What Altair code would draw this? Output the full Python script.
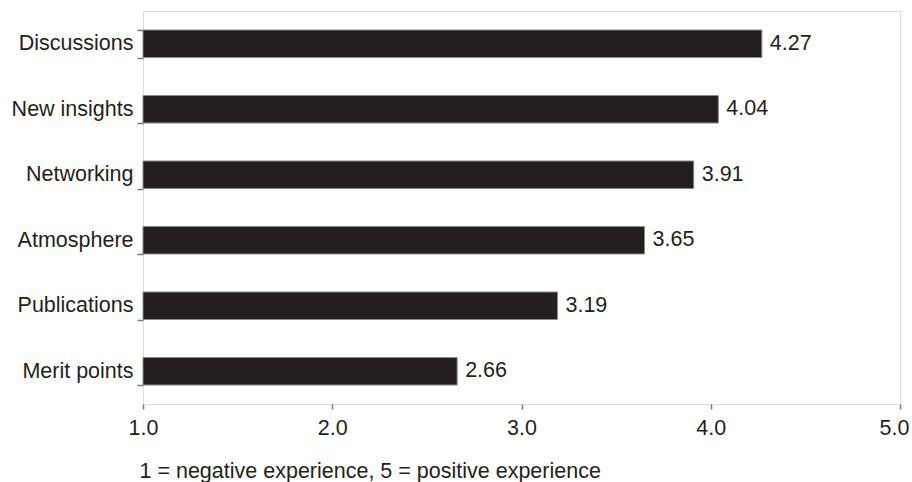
import altair as alt
import pandas as pd

# Mean ratings per aspect (1 = negative, 5 = positive)
aspects = ["Discussions", "New insights", "Networking", "Atmosphere", "Publications", "Merit points"]
scores = [4.27, 4.04, 3.91, 3.65, 3.19, 2.66]
x_ticks = [1.0, 2.0, 3.0, 4.0, 5.0]

df = pd.DataFrame({"aspect": aspects, "score": scores, "base": [1.0] * len(aspects)})

FONT = "Liberation Sans"
FS = 21.5
INK = "#231f20"
GRID = "#7a7a7a"

x_scale = alt.Scale(domain=[1, 5], nice=False, zero=False)
y_scale = alt.Scale(domain=aspects, paddingInner=0.58, paddingOuter=0.29)

base = alt.Chart(df).encode(
    y=alt.Y(
        "aspect:N",
        scale=y_scale,
        sort=aspects,
        axis=alt.Axis(
            title=None,
            tickBand="extent",
            tickSize=6,
            tickColor=GRID,
            tickWidth=1.5,
            domain=False,
            labelFont=FONT,
            labelFontSize=FS,
            labelColor=INK,
            labelPadding=4,
        ),
    )
)

bars = base.mark_bar(color=INK, stroke="#8a8a8a", strokeWidth=1).encode(
    x=alt.X(
        "base:Q",
        scale=x_scale,
        axis=alt.Axis(
            values=x_ticks,
            format=".1f",
            title="1 = negative experience, 5 = positive experience",
            titleFont=FONT,
            titleFontSize=FS,
            titleFontWeight="normal",
            titleColor=INK,
            titleAnchor="start",
            titleAlign="left",
            titleBaseline="top",
            titleX=-4,
            titleY=56,
            tickSize=5,
            tickColor=GRID,
            tickWidth=1.5,
            domain=False,
            grid=False,
            labelFlush=False,
            # keep the last label inside the right edge
            labelOffset={"condition": {"test": "datum.value >= 5", "value": -6}, "value": 0},
            labelFont=FONT,
            labelFontSize=FS,
            labelColor=INK,
            labelPadding=8,
        ),
    ),
    x2="score:Q",
)

labels = base.mark_text(
    align="left", baseline="middle", dx=8, font=FONT, fontSize=FS, color=INK
).encode(
    x=alt.X("score:Q", scale=x_scale),
    text=alt.Text("score:Q", format=".2f"),
)

chart = (
    alt.layer(bars, labels)
    .properties(
        width=757,
        height=393,
        autosize=alt.AutoSizeParams(type="none"),
        padding={"left": 143, "top": 11, "right": 12, "bottom": 78},
    )
    .configure_view(stroke=GRID, strokeWidth=2)
    .configure(background="white")
)

chart.save("out.html", embed_options={"renderer": "svg", "actions": False})
